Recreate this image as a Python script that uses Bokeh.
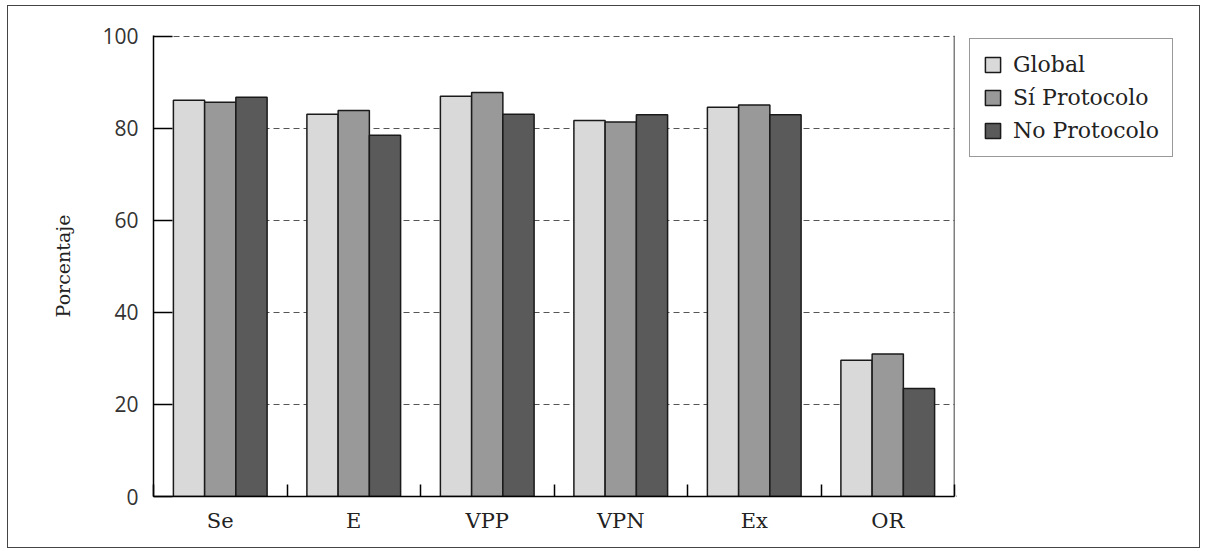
from bokeh.plotting import figure
from bokeh.layouts import row
from bokeh.models import FixedTicker, Span, Legend, LegendItem, ColumnDataSource
from bokeh.transform import dodge
from bokeh.embed import file_html
from bokeh.resources import INLINE

categories = ["Se", "E", "VPP", "VPN", "Ex", "OR"]
global_vals = [86.1, 83.1, 87.0, 81.7, 84.6, 29.6]
si_protocolo = [85.7, 83.9, 87.8, 81.4, 85.1, 31.0]
no_protocolo = [86.8, 78.5, 83.1, 83.0, 83.0, 23.5]
series_names = ["Global", "Sí Protocolo", "No Protocolo"]
series_colors = ["#d9d9d9", "#999999", "#5a5a5a"]
y_ticks = [0, 20, 40, 60, 80, 100]

pos = [i + 0.5 for i in range(len(categories))]
src = ColumnDataSource(dict(x=pos, g=global_vals, s=si_protocolo, n=no_protocolo))

p = figure(width=948, height=541, x_range=(0, len(categories)), y_range=(0, 100.2),
           output_backend="svg", toolbar_location=None,
           min_border_left=145, min_border_top=29, min_border_bottom=51, min_border_right=2)
p.outline_line_color = None

bw = 0.234
for col, off, color in zip(["g", "s", "n"], [-bw, 0, bw], series_colors):
    p.vbar(x=dodge("x", off), top=col, width=bw, source=src,
           fill_color=color, line_color="#1a1a1a", line_width=1.5)

# axes
xa = p.xaxis[0]
xa.ticker = FixedTicker(ticks=pos, minor_ticks=list(range(len(categories) + 1)))
xa.major_label_overrides = {pv: c for pv, c in zip(pos, categories)}
xa.major_tick_in = 0
xa.major_tick_out = 0
xa.minor_tick_in = 12
xa.minor_tick_out = 0
xa.minor_tick_line_color = "black"
xa.minor_tick_line_width = 1.5
xa.axis_line_width = 1.5
xa.axis_line_color = "black"
xa.major_label_standoff = 12
xa.major_label_text_font = "DejaVu Serif"
xa.major_label_text_font_size = "21px"
xa.major_label_text_color = "#222222"

ya = p.yaxis[0]
ya.ticker = FixedTicker(ticks=y_ticks)
ya.major_tick_in = 19
ya.major_tick_out = 0
ya.minor_tick_line_color = None
ya.major_tick_line_width = 1.5
ya.major_tick_line_color = "black"
ya.axis_line_width = 1.5
ya.axis_line_color = "black"
ya.major_label_standoff = 15
ya.major_label_text_font = "Open Sans"
ya.major_label_text_font_size = "21px"
ya.major_label_text_color = "#333333"
ya.axis_label = "Porcentaje"
ya.axis_label_text_font = "DejaVu Serif"
ya.axis_label_text_font_style = "normal"
ya.axis_label_text_font_size = "19px"
ya.axis_label_text_color = "#222222"
ya.axis_label_standoff = 25

p.xgrid.grid_line_color = None
p.ygrid.grid_line_color = "#555555"
p.ygrid.grid_line_dash = "6 4"
p.ygrid.grid_line_width = 1

p.add_layout(Span(location=len(categories), dimension="height", line_color="black", line_width=1.5))

# legend panel (frame is aligned with the main plot's frame by the row layout)
lp = figure(width=243, height=541, x_range=(0, 1), y_range=(0, 1),
            output_backend="svg", toolbar_location=None,
            min_border_left=0, min_border_right=0, min_border_top=29, min_border_bottom=51)
lp.axis.visible = False
lp.grid.grid_line_color = None
lp.outline_line_color = None
# legend proxies: one point each, placed outside the visible range
proxy = ColumnDataSource(dict(x=[-5.0], top=[0.0]))
leg_renderers = [lp.vbar(x="x", top="top", width=0.1, source=proxy,
                         fill_color=c, line_color="#1a1a1a", line_width=1.5)
                 for c in series_colors]

legend = Legend(items=[LegendItem(label=n, renderers=[r]) for n, r in zip(series_names, leg_renderers)],
                location=(13, 339))
legend.margin = 0
legend.label_text_font = "DejaVu Serif"
legend.label_text_font_size = "22px"
legend.label_text_color = "#222222"
legend.glyph_width = 19
legend.glyph_height = 19
legend.label_height = 21
legend.spacing = 8
legend.padding = 13
legend.label_standoff = 11
legend.border_line_color = "#333333"
legend.border_line_width = 1.5
legend.background_fill_alpha = 1
lp.add_layout(legend, "center")

layout = row(p, lp)
layout.spacing = 0
layout.styles = {"border": "1px solid #444", "margin-left": "7px", "margin-top": "5px"}

open("out.html", "w").write(file_html(layout, INLINE))
